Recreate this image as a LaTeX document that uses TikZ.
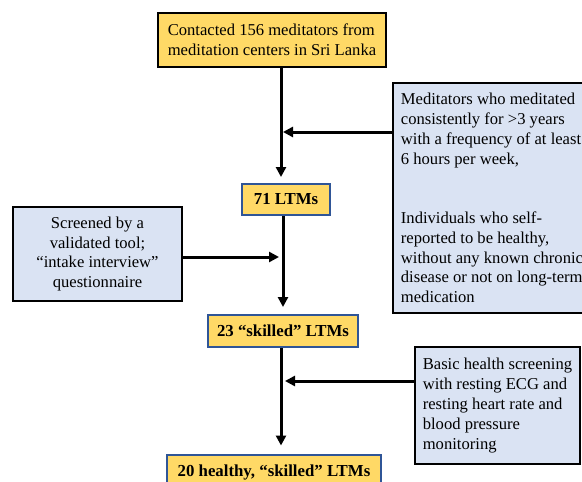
\documentclass[tikz,border=0pt]{standalone}
\usepackage{fontspec}
\setmainfont{Liberation Serif}
\usetikzlibrary{arrows.meta}
\definecolor{boxyellow}{HTML}{FFD966}
\definecolor{boxblue}{HTML}{DAE3F3}
\definecolor{edgeblue}{HTML}{2F5597}
\tikzset{
  txt/.style={font=\fontsize{16.6}{19.8}\selectfont, inner sep=0pt},
  yellowbox/.style={txt, draw=black, line width=2.5pt, fill=boxyellow, align=left},
  stagebox/.style={txt, draw=edgeblue, line width=2pt, fill=boxyellow, font=\fontsize{16.8}{19.8}\selectfont\bfseries, align=center},
  critbox/.style={txt, draw=black, line width=2.5pt, fill=boxblue},
  arr/.style={line width=3pt, -{Triangle[length=10pt,width=10pt]}},
}
\begin{document}
\begin{tikzpicture}[x=1pt,y=-1pt]
\useasboundingbox (0,0) rectangle (582,482);
\node[yellowbox, minimum width=228pt, minimum height=54pt] (top) at (272,40)
  {Contacted 156 meditators from\\meditation centers in Sri Lanka};
\node[stagebox, minimum width=88pt, minimum height=31pt] (ltm) at (286,199.5) {71 LTMs};
\node[stagebox, minimum width=150pt, minimum height=32pt] (sk) at (283,331) {23 “skilled” LTMs};
\node[stagebox, minimum width=214pt, minimum height=35pt] (hs) at (274,472) {20 healthy, “skilled” LTMs};
\node[critbox, align=left, minimum width=198pt, minimum height=230pt] (med) at (492,198)
  {Meditators who meditated\\consistently for >3 years\\with a frequency of at least\\6 hours per week,\\[19.8pt]\mbox{}\\Individuals who self-\\reported to be healthy,\\without any known chronic\\disease or not on long-term\\medication};
\node[critbox, align=center, minimum width=169pt, minimum height=94pt] (scr) at (97.5,254)
  {Screened by a\\validated tool;\\“intake interview”\\questionnaire};
\node[critbox, align=left, minimum width=165pt, minimum height=117pt] (bas) at (497.5,405.5)
  {Basic health screening\\with resting ECG and\\resting heart rate and\\blood pressure\\monitoring};
\coordinate (c1) at (281,0);
\coordinate (c2) at (283,0);
\coordinate (j1) at (283,132);
\coordinate (j2) at (279,257);
\coordinate (j3) at (285,381);
\draw[arr, shorten >=6pt] (c1 |- top.south) -- (c1 |- ltm.north);
\draw[arr] (med.west |- j1) -- (j1);
\draw[arr, shorten >=7pt] (c2 |- ltm.south) -- (c2 |- sk.north);
\draw[arr] (scr.east |- j2) -- (j2);
\draw[arr, shorten >=8pt] (c1 |- sk.south) -- (c1 |- hs.north);
\draw[arr] (bas.west |- j3) -- (j3);
\end{tikzpicture}
\end{document}
